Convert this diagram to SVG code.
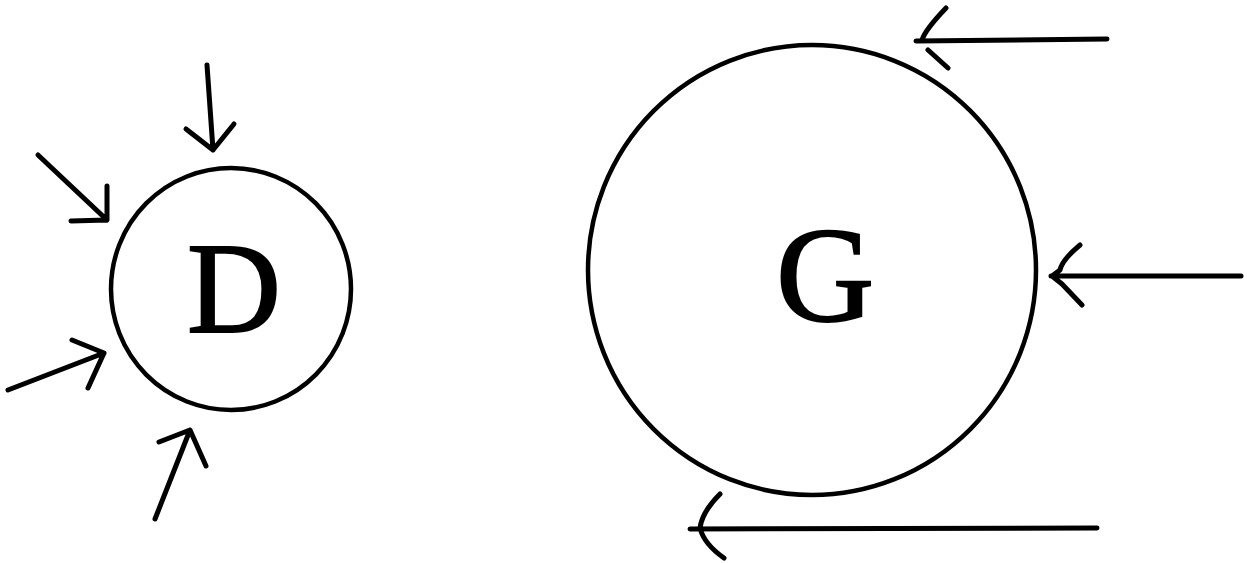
<svg xmlns="http://www.w3.org/2000/svg" width="1247" height="563" viewBox="0 0 1247 563">
<style>
.node{fill:none;stroke:#000;stroke-width:4.5}
.lbl{font-family:"Liberation Serif","Times New Roman",serif;fill:#000;stroke:#000;stroke-width:2;text-anchor:middle}
.arr{fill:none;stroke:#000;stroke-width:5;stroke-linecap:round;stroke-linejoin:round}
</style>
<rect width="1247" height="563" fill="#fff"/>
<g id="D">
<ellipse class="node" cx="231" cy="289" rx="120" ry="121"/>
<text class="lbl" x="234" y="332" font-size="130">D</text>
</g>
<g id="G">
<ellipse class="node" cx="812" cy="270" rx="224" ry="225"/>
<text class="lbl" x="825" y="321" font-size="136">G</text>
</g>
<g id="connectors">
<path class="arr" d="M207 65 L213 150 M186 129 L213 150 L234 124"/>
<path class="arr" d="M38 155 L107 220 M71 221 L107 220 L107 186"/>
<path class="arr" d="M8 390 L104 353 M72 340 L104 353 L88 388"/>
<path class="arr" d="M155 519 L190 430 M159 442 L190 430 L206 466"/>
<path class="arr" d="M1107 39 L916 41 M946 8 Q925 30 922 40 M928 50 L948 68"/>
<path class="arr" d="M1241 276 L1051 276 M1080 245 Q1062 260 1060 270 L1052 276 L1062 284 L1082 305"/>
<path class="arr" d="M1097 528 L690 529 M720 494 Q702 512 700 528 Q704 544 724 558"/>
</g>
</svg>
